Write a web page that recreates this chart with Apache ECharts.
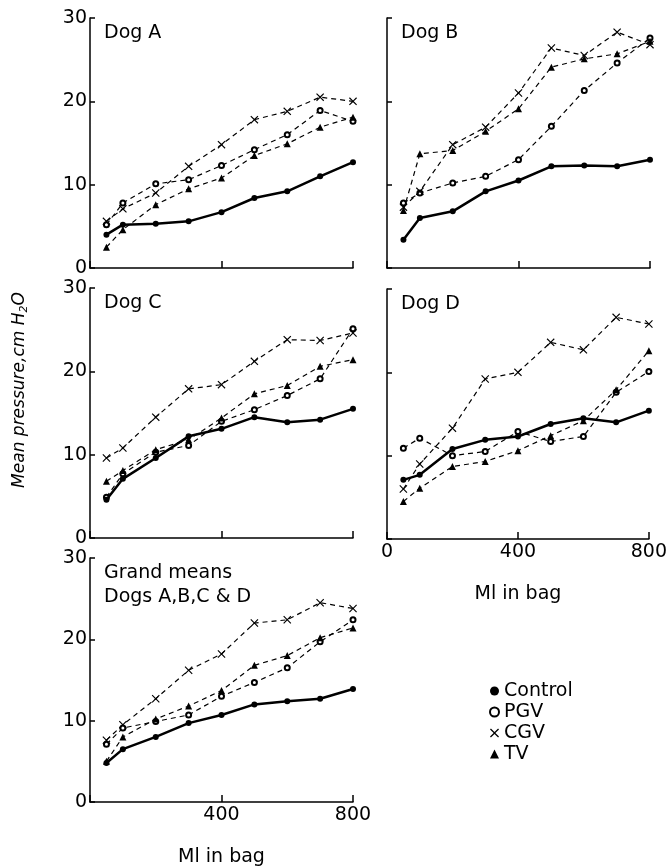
<!DOCTYPE html>
<html>
<head>
<meta charset="utf-8">
<script src="https://cdn.jsdelivr.net/npm/echarts@6/dist/echarts.min.js"></script>
<style>
  html, body { margin: 0; padding: 0; background: #fff; }
  #main { width: 670px; height: 868px; }
</style>
</head>
<body>
<div id="main"></div>
<script>
// volume in bag (ml)
var mlBag = [50, 100, 200, 300, 400, 500, 600, 700, 800];

var dogAControl = [4.0, 5.2, 5.3, 5.6, 6.7, 8.4, 9.2, 11.0, 12.7];
var dogAPGV     = [5.2, 7.8, 10.1, 10.6, 12.3, 14.2, 16.0, 18.9, 17.6];
var dogACGV     = [5.6, 7.1, 9.0, 12.2, 14.8, 17.8, 18.8, 20.5, 20.0];
var dogATV      = [2.5, 4.6, 7.6, 9.5, 10.8, 13.5, 14.9, 16.9, 18.1];

var dogBControl = [3.4, 6.0, 6.8, 9.2, 10.5, 12.2, 12.3, 12.2, 13.0];
var dogBPGV     = [7.8, 9.0, 10.2, 11.0, 13.0, 17.0, 21.3, 24.6, 27.6];
var dogBCGV     = [7.3, 9.2, 14.8, 16.9, 21.0, 26.4, 25.5, 28.3, 26.8];
var dogBTV      = [6.9, 13.7, 14.1, 16.4, 19.1, 24.1, 25.1, 25.7, 27.2];

var dogCControl = [4.6, 7.1, 9.6, 12.2, 13.1, 14.5, 13.9, 14.2, 15.5];
var dogCPGV     = [4.9, 7.7, 10.3, 11.1, 14.0, 15.4, 17.1, 19.1, 25.1];
var dogCCGV     = [9.6, 10.8, 14.5, 17.9, 18.4, 21.2, 23.8, 23.7, 24.6];
var dogCTV      = [6.8, 8.1, 10.6, 11.8, 14.4, 17.3, 18.3, 20.6, 21.4];

var dogDControl = [7.1, 7.7, 10.8, 11.9, 12.3, 13.8, 14.5, 14.0, 15.4];
var dogDPGV     = [10.9, 12.1, 10.0, 10.5, 12.9, 11.7, 12.3, 17.6, 20.1];
var dogDCGV     = [6.0, 9.0, 13.3, 19.2, 20.0, 23.6, 22.7, 26.6, 25.8];
var dogDTV      = [4.5, 6.1, 8.7, 9.3, 10.6, 12.4, 14.2, 17.9, 22.6];

var grandControl = [4.8, 6.5, 8.0, 9.7, 10.7, 12.0, 12.4, 12.7, 13.9];
var grandPGV     = [7.1, 9.1, 9.9, 10.7, 13.0, 14.7, 16.5, 19.7, 22.4];
var grandCGV     = [7.6, 9.5, 12.7, 16.2, 18.2, 22.0, 22.4, 24.5, 23.8];
var grandTV      = [5.0, 8.0, 10.2, 11.8, 13.7, 16.8, 18.0, 20.2, 21.4];

var groupNames = ['Control', 'PGV', 'CGV', 'TV'];
var panelTitles = ['Dog A', 'Dog B', 'Dog C', 'Dog D', 'Grand means\nDogs A,B,C & D'];
var panels = [
    [dogAControl, dogAPGV, dogACGV, dogATV],
    [dogBControl, dogBPGV, dogBCGV, dogBTV],
    [dogCControl, dogCPGV, dogCCGV, dogCTV],
    [dogDControl, dogDPGV, dogDCGV, dogDTV],
    [grandControl, grandPGV, grandCGV, grandTV]
];

var FONT = 'DejaVu Sans';
var crossPath = 'path://M0,1L1,0L5,4L9,0L10,1L6,5L10,9L9,10L5,6L1,10L0,9L4,5Z';

// grid boxes: [left, top]
var boxes = [[90, 18], [387, 18], [90, 288], [387, 289], [90, 558]];
var showY = [true, false, true, false, true];
var showX = [false, false, false, true, true];

var myChart = echarts.init(document.getElementById('main'));

var grids = [], xAxes = [], yAxes = [], titles = [], series = [];

boxes.forEach(function (b, i) {
    grids.push({ left: b[0], top: b[1], width: 263, height: 250 });
    titles.push({
        text: panelTitles[i],
        left: b[0] + 14,
        top: b[1] + 3,
        padding: 0,
        textStyle: { fontFamily: FONT, fontSize: 19, fontWeight: 'normal', color: '#000', lineHeight: 24 }
    });
    xAxes.push({
        type: 'value', gridIndex: i, min: 0, max: 800, interval: 400,
        name: showX[i] ? 'Ml in bag' : '',
        nameLocation: 'middle',
        nameGap: 46,
        nameTextStyle: { fontFamily: FONT, fontSize: 19, color: '#000' },
        axisLine: { lineStyle: { color: '#000', width: 1.5 } },
        axisTick: { inside: true, length: 7, lineStyle: { color: '#000', width: 1.5 } },
        axisLabel: {
            show: showX[i], margin: 4, fontFamily: FONT, fontSize: 19, color: '#000',
            formatter: function (v) { return (i == 4 && v == 0) ? '' : v; }
        },
        splitLine: { show: false }
    });
    yAxes.push({
        type: 'value', gridIndex: i, min: 0, max: 30, interval: 10,
        axisLine: { show: true, lineStyle: { color: '#000', width: 1.5 } },
        axisTick: { show: true, inside: true, length: 5, lineStyle: { color: '#000', width: 1.5 } },
        axisLabel: { show: showY[i], margin: 3, fontFamily: FONT, fontSize: 19, color: '#000' },
        splitLine: { show: false }
    });
    panels[i].forEach(function (vals, k) {
        var s = {
            type: 'line',
            name: groupNames[k],
            xAxisIndex: i,
            yAxisIndex: i,
            data: mlBag.map(function (x, j) { return [x, vals[j]]; }),
            z: k == 0 ? 4 : 3,
            lineStyle: { color: '#000', width: 1.2, type: [5, 4] },
            itemStyle: { color: '#000' },
            showSymbol: true
        };
        if (k == 0) {
            s.symbol = 'circle'; s.symbolSize = 6;
            s.lineStyle = { color: '#000', width: 2.5, type: 'solid' };
        } else if (k == 1) {
            s.symbol = 'emptyCircle'; s.symbolSize = 5;
            s.itemStyle = { color: '#000', borderWidth: 1.4 };
        } else if (k == 2) {
            s.symbol = crossPath; s.symbolSize = 8;
        } else {
            s.symbol = 'triangle'; s.symbolSize = 7;
        }
        series.push(s);
    });
});

myChart.setOption({
    animation: false,
    backgroundColor: '#fff',
    title: titles,
    grid: grids,
    xAxis: xAxes,
    yAxis: yAxes,
    legend: {
        orient: 'vertical',
        left: 484,
        top: 676,
        itemWidth: 9,
        itemHeight: 9,
        itemGap: 1,
        textStyle: { fontFamily: FONT, fontSize: 19, color: '#000', lineHeight: 20 },
        data: [
            { name: 'Control', icon: 'circle', itemStyle: { color: '#000' } },
            { name: 'PGV', icon: 'circle', itemStyle: { color: '#fff', borderColor: '#000', borderWidth: 2 } },
            { name: 'CGV', icon: crossPath, itemStyle: { color: '#000' } },
            { name: 'TV', icon: 'triangle', itemStyle: { color: '#000' } }
        ]
    },
    graphic: [{
        type: 'text',
        x: 20,
        y: 390,
        rotation: Math.PI / 2,
        style: {
            text: '{a|Mean pressure,cm H}{s|2}{a|O}',
            align: 'center',
            verticalAlign: 'middle',
            fill: '#000',
            rich: {
                a: { fontFamily: FONT, fontStyle: 'italic', fontSize: 17, fill: '#000' },
                s: { fontFamily: FONT, fontStyle: 'italic', fontSize: 11, fill: '#000', padding: [9, 0, 0, 0] }
            }
        }
    }],
    series: series
});

window.addEventListener('resize', function () {
    myChart.resize();
});
</script>
</body>
</html>
